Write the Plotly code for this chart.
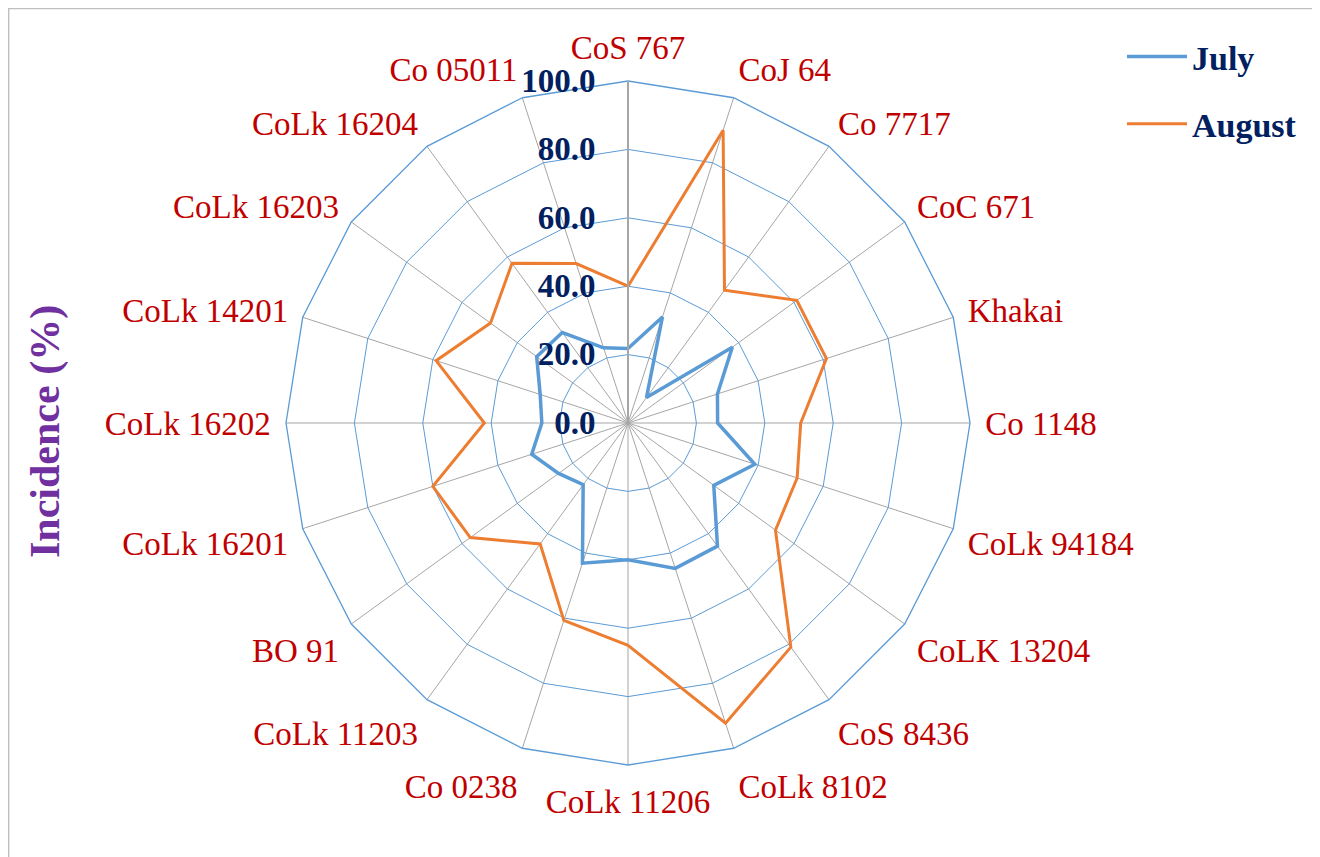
import plotly.graph_objects as go

categories = ["CoS 767", "CoJ 64", "Co 7717", "CoC 671", "Khakai", "Co 1148",
              "CoLk 94184", "CoLK 13204", "CoS 8436", "CoLk 8102", "CoLk 11206",
              "Co 0238", "CoLk 11203", "BO 91", "CoLk 16201", "CoLk 16202",
              "CoLk 14201", "CoLk 16203", "CoLk 16204", "Co 05011"]
july = [21.8, 32.6, 9.2, 37.7, 27.5, 26.2, 39.0, 31.0, 44.5, 44.7,
        40.0, 43.1, 22.3, 25.1, 29.6, 25.2, 27.0, 33.0, 32.7, 23.1]
august = [40.0, 90.0, 48.0, 61.0, 61.0, 50.5, 52.0, 53.3, 81.0, 92.3,
          65.0, 60.7, 43.7, 57.0, 60.0, 42.0, 59.0, 49.7, 57.7, 49.0]
radial_ticks = [0, 20, 40, 60, 80, 100]
series_names = ["July", "August"]

OFF = 8  # page body margin
W, H = 1320 - OFF, 857 - OFF
FONT = "Liberation Serif, Times New Roman, serif"


def px(x):
    return (x - OFF) / W


def py(y):
    return 1 - (y - OFF) / H


theta = categories + [categories[0]]
fig = go.Figure()
fig.add_trace(go.Scatterpolar(r=july + [july[0]], theta=theta, mode="lines",
                              name=series_names[0], legendgroup="a",
                              line=dict(color="#5B9BD5", width=3.5)))
fig.add_trace(go.Scatterpolar(r=august + [august[0]], theta=theta, mode="lines",
                              name=series_names[1], legendgroup="b",
                              line=dict(color="#ED7D31", width=3)))

cx, cy, R = 628, 423, 342
fig.update_layout(
    width=W, height=H,
    margin=dict(l=0, r=0, t=0, b=0),
    paper_bgcolor="white", plot_bgcolor="white",
    polar=dict(
        domain=dict(x=[px(cx - R), px(cx + R)], y=[py(cy + R), py(cy - R)]),
        bgcolor="white",
        gridshape="linear",
        angularaxis=dict(
            type="category", categoryarray=categories, categoryorder="array",
            rotation=90, direction="clockwise",
            showline=True, linecolor="#5B9BD5", linewidth=1.3,
            gridcolor="#A6A6A6", gridwidth=1,
            ticks="outside", ticklen=8, tickcolor="rgba(0,0,0,0)",
            tickfont=dict(family=FONT, size=33, color="#C00000"),
        ),
        radialaxis=dict(
            range=[0, 100], tickvals=radial_ticks, tickformat=".1f",
            angle=90, side="counterclockwise", tickangle=90,
            showline=True, linecolor="#A6A6A6", linewidth=2,
            gridcolor="#5B9BD5", gridwidth=1.3,
            ticks="outside", ticklen=20, tickcolor="rgba(0,0,0,0)",
            tickfont=dict(family=FONT, size=33, color="#002060", weight="bold"),
        ),
    ),
    legend=dict(
        x=px(1122), y=py(28), xanchor="left", yanchor="top",
        font=dict(family=FONT, size=34, color="#002060", weight="bold"),
        traceorder="grouped", tracegroupgap=20, itemwidth=60,
        bgcolor="rgba(0,0,0,0)",
    ),
    annotations=[dict(
        text="<b>Incidence (%)</b>", x=px(45), y=py(432),
        xref="paper", yref="paper", xanchor="center", yanchor="middle",
        showarrow=False, textangle=-90,
        font=dict(family=FONT, size=42, color="#7030A0"),
    )],
    shapes=[dict(type="rect", xref="paper", yref="paper",
                 x0=0.0005, x1=1.2, y0=-0.05, y1=0.9995,
                 line=dict(color="#BFBFBF", width=1.5))],
)

fig.write_html("out.html")
